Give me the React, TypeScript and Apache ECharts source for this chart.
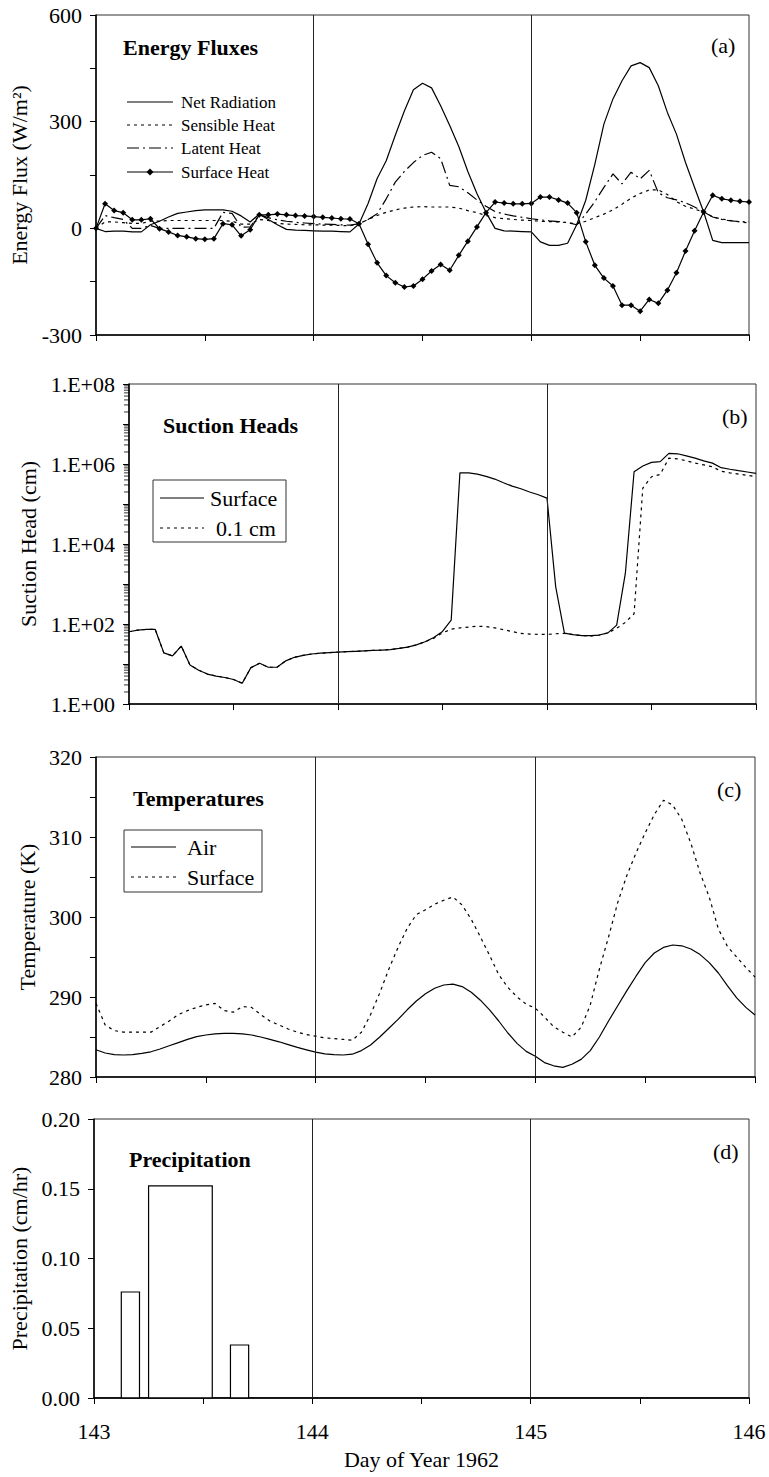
import React, { useEffect, useRef } from 'react';
import * as echarts from 'echarts';

// Hourly samples from day-of-year 143.0 to 146.0 (73 values, one per hour)
const firstDay = 143;
const samplesPerDay = 24;
const dayTickLabels = [143, 144, 145, 146];
const dayLines = [144, 145];

// (a) Energy fluxes, W/m2
const netRadiation = [
  0, -9, -8, -8, -10, -10, 10, 20, 32, 42,
  46, 50, 52, 52, 52, 48, 35, 18, 40, 25,
  10, -3, -5, -6, -7, -8, -8, -9, -10, 12,
  70, 140, 190, 262, 330, 390, 408, 395, 345, 289,
  230, 160, 98, 45, 0, -7, -8, -9, -10, -38,
  -48, -48, -42, 10, 79, 180, 293, 364, 415, 457,
  466, 452, 401, 326, 265, 185, 115, 46, -34, -40,
  -40, -40, -40,
];
const sensibleHeat = [
  0, 18, 18, 16, 14, 14, 20, 20, 22, 22,
  22, 22, 22, 22, 22, 20, 12, 12, 25, 22,
  14, 12, 11, 10, 10, 9, 9, 8, 7, 13,
  25, 36, 45, 52, 57, 60, 61, 60, 60, 60,
  57, 50, 44, 36, 30, 27, 25, 23, 22, 20,
  19, 18, 16, 12, 20, 30, 40, 52, 68, 85,
  98, 108, 108, 95, 75, 62, 54, 46, 32, 26,
  22, 18, 15,
];
const latentHeat = [
  0, 36, 30, 25, 0, 0, 8, 0, 0, 0,
  0, 0, 0, 0, 45, 42, 3, 4, 38, 30,
  24, 20, 17, 15, 13, 12, 11, 10, 9, 13,
  25, 41, 83, 130, 160, 185, 205, 214, 196, 121,
  117, 100, 80, 62, 47, 40, 35, 31, 27, 24,
  21, 19, 16, 10, 40, 75, 115, 153, 125, 158,
  139, 163, 100, 86, 80, 72, 60, 46, 32, 25,
  21, 19, 18,
];
const surfaceHeat = [
  0, 69, 50, 44, 24, 24, 27, -1, -10, -20,
  -24, -29, -31, -29, 13, 10, -21, -4, 38, 38,
  40, 38, 36, 35, 33, 31, 29, 27, 26, 13,
  -45, -97, -133, -153, -165, -162, -143, -120, -102, -118,
  -76, -36, 4, 44, 74, 71, 69, 69, 70, 88,
  88, 80, 71, 44, -38, -104, -140, -162, -216, -216,
  -233, -200, -211, -174, -125, -64, -7, 46, 93, 83,
  79, 76, 74,
];

// (b) Suction heads, cm
const suctionSurface = [
  64, 70, 73, 74, 19, 16, 28, 9.4, 7, 5.6,
  5, 4.6, 4.1, 3.3, 8.1, 10.4, 8.3, 8.3, 12, 14.7,
  16.5, 17.8, 18.6, 19.2, 19.8, 20.3, 20.8, 21.3, 21.8, 22.3,
  23, 24.5, 26.5, 30, 36, 46, 65, 125, 6.0e5, 6.0e5,
  5.6e5, 4.9e5, 4.2e5, 3.4e5, 2.8e5, 2.4e5, 2.0e5, 1.7e5, 1.4e5, 850,
  59, 54, 51, 51, 53, 60, 94, 1860, 6.4e5, 8.9e5,
  1.1e6, 1.15e6, 1.85e6, 1.8e6, 1.6e6, 1.4e6, 1.2e6, 1.05e6, 8.1e5, 7.4e5,
  6.8e5, 6.3e5, 5.8e5,
];
const suctionShallow = [
  64, 70, 73, 74, 19, 16, 28, 9.4, 7, 5.6,
  5, 4.6, 4.1, 3.3, 8.1, 10.4, 8.3, 8.3, 12, 14.7,
  16.5, 17.8, 18.6, 19.2, 19.8, 20.3, 20.8, 21.3, 21.8, 22.3,
  23, 24.5, 26.5, 30, 36, 44, 60, 74, 80, 84,
  88, 86, 80, 72, 65, 58, 56, 55, 55, 57,
  58, 54, 51, 50, 53, 60, 78, 110, 180, 2.5e5,
  4.8e5, 5.5e5, 1.4e6, 1.35e6, 1.2e6, 1.05e6, 9.5e5, 8.5e5, 6.6e5, 6.0e5,
  5.6e5, 5.2e5, 4.8e5,
];
const logDecades = [0, 1, 2, 3, 4, 5, 6, 7];
const logMinorMultipliers = [2, 3, 4, 5, 6, 7, 8, 9];

// (c) Temperatures, K
const airTemp = [
  283.4, 283.0, 282.8, 282.75, 282.8, 282.95, 283.15, 283.5, 283.9, 284.3,
  284.7, 285.05, 285.25, 285.4, 285.45, 285.45, 285.4, 285.25, 285.0, 284.7,
  284.4, 284.05, 283.7, 283.4, 283.1, 282.9, 282.8, 282.75, 282.85, 283.3,
  284.0, 285.0, 286.1, 287.2, 288.4, 289.5, 290.4, 291.1, 291.5, 291.6,
  291.3, 290.6, 289.6, 288.4, 287.0, 285.5, 284.2, 283.2, 282.6, 281.8,
  281.4, 281.2, 281.6, 282.2, 283.3, 285.0, 287.0, 288.9, 290.8, 292.6,
  294.3, 295.5, 296.2, 296.5, 296.4, 296.0, 295.3, 294.3, 293.0, 291.4,
  289.9, 288.7, 287.75,
];
const surfaceTemp = [
  289.2, 286.5, 285.8, 285.6, 285.6, 285.6, 285.6, 286.3, 287.0, 287.8,
  288.3, 288.7, 289.0, 289.2, 288.3, 288.1, 288.8, 288.7, 287.8, 287.0,
  286.5, 286.0, 285.6, 285.3, 285.1, 284.9, 284.8, 284.7, 284.6, 285.6,
  287.8, 290.5, 293.5, 296.2, 298.6, 300.3, 300.9, 301.6, 302.1, 302.5,
  301.5, 299.7, 297.5, 295.2, 292.8, 291.2, 290.0, 289.1, 288.6, 287.5,
  286.3, 285.6, 285.0, 286.2, 289.0, 293.5, 297.5, 301.8, 305.2, 308.0,
  310.5, 312.8, 314.6, 314.0, 312.2, 309.2, 305.5, 302.5, 298.5, 296.3,
  295.0, 293.7, 292.5,
];

// (d) Precipitation, cm/hr (start hour, end hour, rate)
const precipStartHour = [3, 6, 15];
const precipEndHour = [5, 13, 17];
const precipRate = [0.076, 0.152, 0.038];

const FONT = 'Liberation Serif';
const DOTTED = [3, 4];
const DASH_DOT = [12, 4, 2, 4];

function buildOption() {
  const timeAxis = netRadiation.map((_, i) => firstDay + i / samplesPerDay);
  const toPairs = (vals: number[]) => vals.map((v, i) => [timeAxis[i], v]);
  const hourToDay = (h: number) => firstDay + h / samplesPerDay;
  const axisFont = { fontFamily: FONT, fontSize: 22, color: '#000' };

  const grids = [
    { left: 96, top: 15, width: 653, height: 320 },
    { left: 129, top: 384, width: 627, height: 320 },
    { left: 96, top: 757, width: 659, height: 320 },
    { left: 94, top: 1119, width: 655, height: 279 },
  ].map((g) => ({ ...g, show: true, borderColor: '#333', borderWidth: 1, backgroundColor: 'transparent' }));

  const xAxes = grids.map((_, i) => ({
    type: 'value',
    gridIndex: i,
    min: 143,
    max: 146,
    interval: 0.5,
    axisLine: { onZero: false, lineStyle: { color: '#000', width: 1.5 } },
    axisTick: { length: 6, lineStyle: { color: '#000', width: 1 } },
    axisLabel: {
      show: i === 3,
      margin: 22,
      ...axisFont,
      formatter: (v: number) => (dayTickLabels.includes(v) ? String(v) : ''),
    },
    splitLine: { show: false },
    name: i === 3 ? 'Day of Year 1962' : '',
    nameLocation: 'middle',
    nameGap: 50,
    nameTextStyle: { ...axisFont },
  }));

  const yBase = (i: number) => ({
    gridIndex: i,
    axisLine: { onZero: false, lineStyle: { color: '#000', width: 1.5 } },
    axisTick: { length: 6, lineStyle: { color: '#000', width: 1 } },
    splitLine: { show: false },
    nameLocation: 'middle',
    nameRotate: 90,
    nameTextStyle: { ...axisFont },
  });

  const yAxes = [
    {
      ...yBase(0),
      type: 'value',
      min: -300,
      max: 600,
      interval: 150,
      name: 'Energy Flux (W/m²)',
      nameGap: 54,
      axisLabel: { ...axisFont, margin: 14, formatter: (v: number) => (v % 300 === 0 ? String(v) : '') },
    },
    {
      ...yBase(1),
      type: 'log',
      logBase: 10,
      min: 1,
      max: 1e8,
      name: 'Suction Head (cm)',
      nameGap: 84,
      axisLabel: {
        ...axisFont,
        margin: 14,
        formatter: (v: number) => {
          const e = Math.round(Math.log10(v));
          return e % 2 === 0 ? '1.E+' + String(e).padStart(2, '0') : '';
        },
      },
    },
    {
      ...yBase(2),
      type: 'value',
      min: 280,
      max: 320,
      interval: 5,
      name: 'Temperature (K)',
      nameGap: 52,
      axisLabel: { ...axisFont, margin: 14, formatter: (v: number) => (v % 10 === 0 ? String(v) : '') },
    },
    {
      ...yBase(3),
      type: 'value',
      min: 0,
      max: 0.2,
      interval: 0.05,
      name: 'Precipitation (cm/hr)',
      nameGap: 58,
      axisLabel: { ...axisFont, margin: 14, formatter: (v: number) => v.toFixed(2) },
    },
  ];

  const dayMarkLine = {
    silent: true,
    symbol: ['none', 'none'],
    label: { show: false },
    lineStyle: { color: '#222', width: 1, type: 'solid' },
    animation: false,
    data: dayLines.map((d) => ({ xAxis: d })),
  };

  const lineSeries = (name: string, idx: number, vals: number[], dash: any, extra: any = {}) => ({
    type: 'line',
    name,
    xAxisIndex: idx,
    yAxisIndex: idx,
    data: toPairs(vals),
    symbol: 'none',
    lineStyle: { color: '#000', width: 1.2, type: dash },
    itemStyle: { color: '#000' },
    silent: true,
    ...extra,
  });

  const minorTicks: number[][] = [];
  logDecades.forEach((d) => logMinorMultipliers.forEach((k) => minorTicks.push([firstDay, k * Math.pow(10, d)])));

  const series: any[] = [
    lineSeries('Net Radiation', 0, netRadiation, 'solid', { markLine: dayMarkLine }),
    lineSeries('Sensible Heat', 0, sensibleHeat, DOTTED),
    lineSeries('Latent Heat', 0, latentHeat, DASH_DOT),
    lineSeries('Surface Heat', 0, surfaceHeat, 'solid', { symbol: 'diamond', symbolSize: 6, showSymbol: true }),
    lineSeries('Surface', 1, suctionSurface, 'solid', { markLine: dayMarkLine }),
    lineSeries('0.1 cm', 1, suctionShallow, DOTTED),
    {
      type: 'scatter',
      name: 'log minor ticks',
      xAxisIndex: 1,
      yAxisIndex: 1,
      data: minorTicks,
      symbol: 'rect',
      symbolSize: [5, 1],
      symbolOffset: [-2.5, 0],
      itemStyle: { color: '#000' },
      clip: false,
      silent: true,
    },
    lineSeries('Air', 2, airTemp, 'solid', { markLine: dayMarkLine }),
    lineSeries('Surface temperature', 2, surfaceTemp, DOTTED),
    {
      type: 'line',
      name: 'precip baseline',
      xAxisIndex: 3,
      yAxisIndex: 3,
      data: [[143, 0], [146, 0]],
      symbol: 'none',
      lineStyle: { color: '#000', width: 1 },
      silent: true,
      markLine: dayMarkLine,
    },
    {
      type: 'custom',
      name: 'Precipitation',
      xAxisIndex: 3,
      yAxisIndex: 3,
      silent: true,
      encode: { x: [0, 1], y: 2 },
      data: precipRate.map((r, i) => [hourToDay(precipStartHour[i]), hourToDay(precipEndHour[i]), r]),
      renderItem: (params: any, api: any) => {
        const a = api.coord([api.value(0), api.value(2)]);
        const b = api.coord([api.value(1), 0]);
        return {
          type: 'rect',
          shape: { x: a[0], y: a[1], width: b[0] - a[0], height: b[1] - a[1] },
          style: { fill: '#fff', stroke: '#000', lineWidth: 1.2 },
        };
      },
    },
  ];

  const txt = (text: string, x: number, y: number, size: number, bold = false) => ({
    type: 'text',
    x,
    y,
    silent: true,
    z: 10,
    style: {
      text,
      fontFamily: FONT,
      fontSize: size,
      fontWeight: bold ? 'bold' : 'normal',
      fill: '#000',
      align: 'left',
      verticalAlign: 'middle',
    },
  });
  const seg = (x1: number, x2: number, y: number, dash: number[] | null) => ({
    type: 'line',
    silent: true,
    z: 10,
    shape: { x1, y1: y, x2, y2: y },
    style: { stroke: '#000', lineWidth: 1.2, lineDash: dash || undefined },
  });
  const box = (x: number, y: number, w: number, h: number) => ({
    type: 'rect',
    silent: true,
    z: 9,
    shape: { x, y, width: w, height: h },
    style: { fill: '#fff', stroke: '#333', lineWidth: 1 },
  });

  const graphics: any[] = [
    // panel titles
    txt('Energy Fluxes', 123, 47, 22, true),
    txt('Suction Heads', 163, 425, 22, true),
    txt('Temperatures', 133, 798, 22, true),
    txt('Precipitation', 129, 1159, 22, true),
    txt('(a)', 711, 45, 22),
    txt('(b)', 722, 416, 22),
    txt('(c)', 717, 789, 22),
    txt('(d)', 713, 1151, 22),
    // legend (a)
    seg(127, 173, 102, null),
    seg(127, 173, 125, DOTTED),
    seg(127, 173, 148, DASH_DOT),
    seg(127, 173, 172, null),
    {
      type: 'polygon',
      silent: true,
      z: 11,
      shape: { points: [[150, 168.5], [153.5, 172], [150, 175.5], [146.5, 172]] },
      style: { fill: '#000' },
    },
    txt('Net Radiation', 181, 102, 17),
    txt('Sensible Heat', 181, 125, 17),
    txt('Latent Heat', 181, 148, 17),
    txt('Surface Heat', 181, 172, 17),
    // legend (b)
    box(153, 480, 133, 62),
    seg(160, 204, 498, null),
    seg(160, 204, 528, DOTTED),
    txt('Surface', 210, 498, 22),
    txt('0.1 cm', 216, 528, 22),
    // legend (c)
    box(124, 830, 138, 62),
    seg(131, 176, 847, null),
    seg(131, 176, 877, DOTTED),
    txt('Air', 187, 847, 22),
    txt('Surface', 187, 877, 22),
  ];

  return {
    animation: false,
    backgroundColor: '#fff',
    textStyle: { fontFamily: FONT },
    grid: grids,
    xAxis: xAxes,
    yAxis: yAxes,
    series,
    graphic: graphics,
  };
}

export default function App() {
  const ref = useRef<HTMLDivElement>(null);
  useEffect(() => {
    if (!ref.current) return;
    const chart = echarts.init(ref.current, null, { renderer: 'svg' });
    chart.setOption(buildOption() as any);
    return () => chart.dispose();
  }, []);
  return (
    <div
      ref={ref}
      style={{ position: 'absolute', left: 0, top: 0, width: 769, height: 1477, background: '#fff' }}
    />
  );
}
